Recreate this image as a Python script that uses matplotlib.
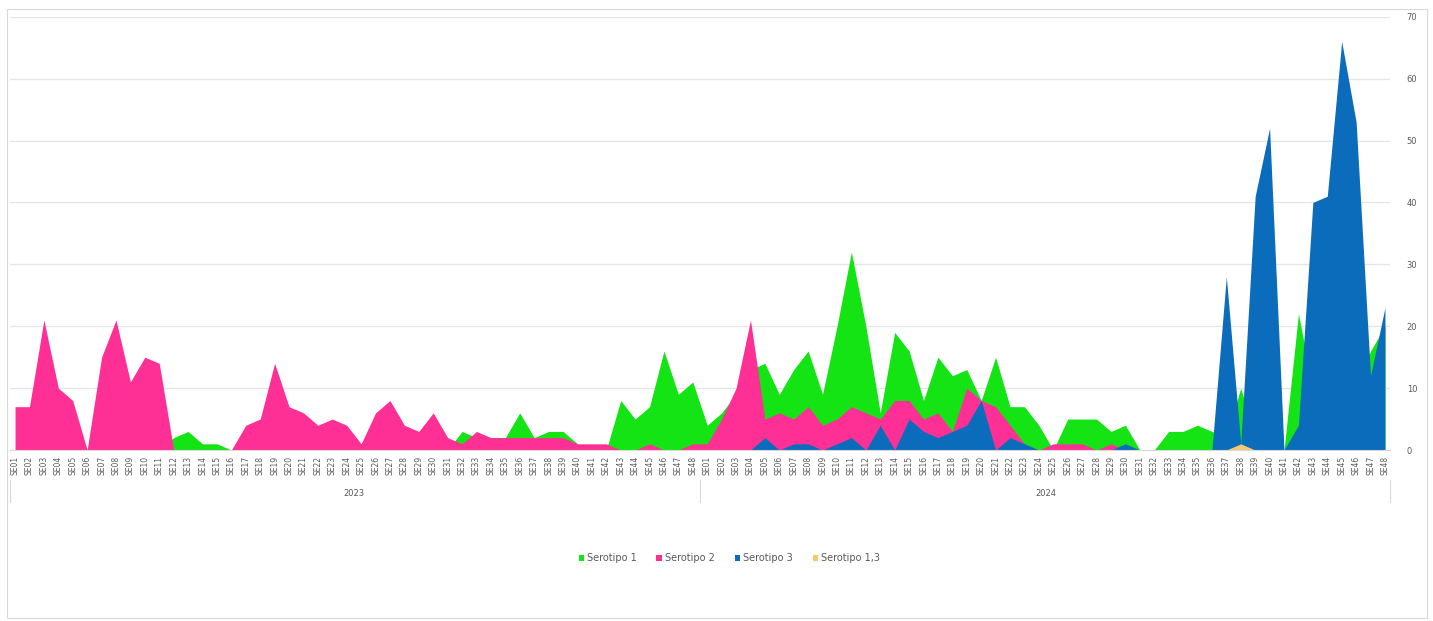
import matplotlib
matplotlib.use("Agg")
import matplotlib.pyplot as plt
from matplotlib.patches import Rectangle
import matplotlib.transforms as mtransforms

# Semanas epidemiologicas (2023 y 2024)
years = ["2023", "2024"]
weeks_2023 = ["SE%02d" % w for w in range(1, 49)]
weeks_2024 = ["SE%02d" % w for w in range(1, 49)]

# Casos por serotipo
serotipo1_2023 = [0, 0, 0, 0, 0, 0, 0, 0, 0, 0, 0, 2, 3, 1, 1, 0,
                  0, 0, 0, 0, 0, 0, 0, 0, 0, 0, 0, 0, 0, 0, 0,
                  3, 2, 2, 2, 6, 2, 3, 3, 1, 0, 0, 8, 5, 7, 16, 9, 11]
serotipo1_2024 = [4, 6, 9, 13, 14, 9, 13, 16, 9, 20, 32, 20, 6, 19, 16,
                  8, 15, 12, 13, 8, 15, 7, 7, 4, 0, 5, 5, 5, 3, 4,
                  0, 0, 3, 3, 4, 3, 2, 10, 2, 2, 0, 22, 10, 10, 10, 10, 16, 20]

serotipo2_2023 = [7, 7, 21, 10, 8, 0, 15, 21, 11, 15, 14, 0, 0, 0, 0, 0,
                  4, 5, 14, 7, 6, 4, 5, 4, 1, 6, 8, 4, 3, 6, 2, 1,
                  3, 2, 2, 2, 2, 2, 2, 1, 1, 1, 0, 0, 1, 0, 0, 1]
serotipo2_2024 = [1, 5, 10, 21, 5, 6, 5, 7, 4, 5, 7, 6, 5, 8, 8,
                  5, 6, 3, 10, 8, 7, 4, 1, 0, 1, 1, 1, 0, 1, 0,
                  0, 0, 0, 0, 0, 0, 0, 0, 0, 0, 0, 0, 0, 0, 0, 0, 0, 0]

serotipo3_2023 = [0] * 48
serotipo3_2024 = [0, 0, 0, 0, 2, 0, 1, 1, 0, 1, 2, 0, 4, 0, 5,
                  3, 2, 3, 4, 8, 0, 2, 1, 0, 0, 0, 0, 0, 0, 1,
                  0, 0, 0, 0, 0, 0, 28, 1, 41, 52, 0, 4, 40, 41, 66, 53, 12, 23]

serotipo13_2023 = [0] * 48
serotipo13_2024 = [0] * 37 + [1] + [0] * 10

series = [
    ("Serotipo 1", serotipo1_2023 + serotipo1_2024, "#14e314"),
    ("Serotipo 2", serotipo2_2023 + serotipo2_2024, "#fe2f95"),
    ("Serotipo 3", serotipo3_2023 + serotipo3_2024, "#0b6cbc"),
    ("Serotipo 1,3", serotipo13_2023 + serotipo13_2024, "#f7c873"),
]

labels = weeks_2023 + weeks_2024
x = list(range(len(labels)))
grey = "#595959"

fig = plt.figure(figsize=(14.33, 6.21), dpi=100)
ax = fig.add_axes([10 / 1433, 171 / 621, 1380 / 1433, 433.3 / 621])

# Area chart: each series drawn over the previous one
for name, values, color in series:
    ax.fill_between(x, 0, values, color=color, linewidth=0, label=name, zorder=2)

ax.set_xlim(-0.35, len(labels) - 1 + 0.35)
ax.set_ylim(0, 70)
ax.set_yticks(range(0, 71, 10))
ax.yaxis.tick_right()
ax.tick_params(axis="y", length=0, labelsize=6, labelcolor=grey, pad=12)
ax.grid(axis="y", color="#e4e4e4", linewidth=0.9, zorder=0)
ax.set_axisbelow(True)

ax.set_xticks(x)
ax.set_xticklabels(labels, rotation=90, fontsize=5.5, color=grey)
ax.tick_params(axis="x", length=0, pad=4)

for side in ["top", "left", "right"]:
    ax.spines[side].set_visible(False)
ax.spines["bottom"].set_color("#d9d9d9")

# Year labels and separators under the week labels
trans = mtransforms.blended_transform_factory(ax.transData, ax.transAxes)
n23 = len(weeks_2023)
ax.text((n23 - 1) / 2, -0.10, years[0], transform=trans, ha="center", va="center",
        fontsize=6, color=grey)
ax.text(n23 + (len(weeks_2024) - 1) / 2, -0.10, years[1], transform=trans,
        ha="center", va="center", fontsize=6, color=grey)
for xs in [-0.35, n23 - 0.5, len(labels) - 1 + 0.35]:
    ax.plot([xs, xs], [-0.07, -0.12], transform=trans, color="#d9d9d9",
            linewidth=0.8, clip_on=False)

leg = fig.legend(loc="center", bbox_to_anchor=(0.509, 0.101), ncol=4, frameon=False,
                 fontsize=7, handlelength=0.6, handleheight=0.6, handletextpad=0.3,
                 columnspacing=2.0)
for t in leg.get_texts():
    t.set_color(grey)

# Outer chart frame
fig.patches.append(Rectangle((7 / 1433, 3 / 621), 1420 / 1433, 609 / 621,
                             transform=fig.transFigure, fill=False,
                             edgecolor="#d9d9d9", linewidth=0.8))

fig.savefig("out.png", dpi=100)
